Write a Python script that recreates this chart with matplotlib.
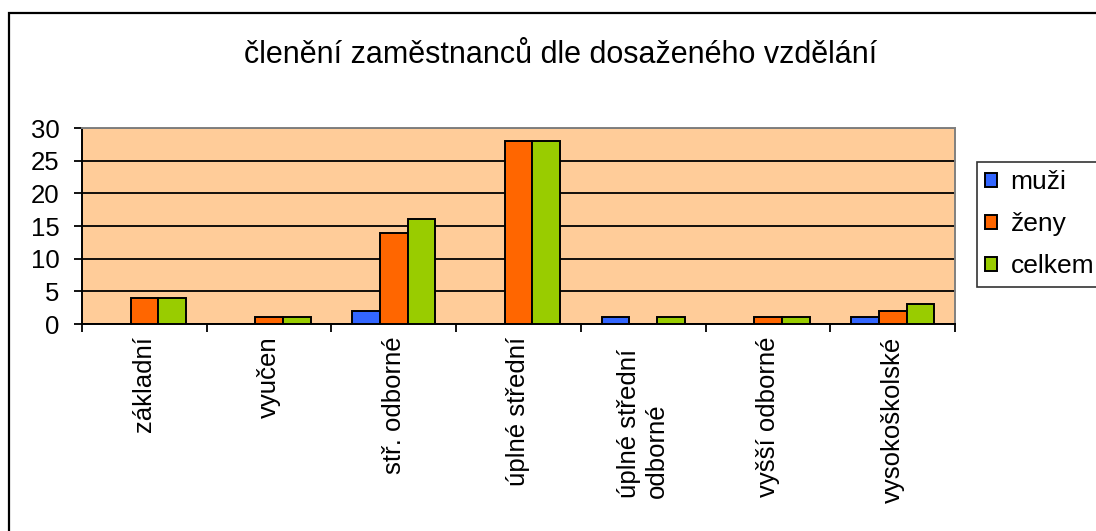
"""Bar chart: členění zaměstnanců dle dosaženého vzdělání (Excel-style)."""
import numpy as np
import matplotlib
matplotlib.use('Agg')
import matplotlib.pyplot as plt
from matplotlib.patches import Rectangle
from matplotlib.transforms import ScaledTranslation

plt.rcParams['font.family'] = ['Liberation Sans', 'DejaVu Sans']

TITLE = 'členění zaměstnanců dle dosaženého vzdělání'
CATEGORIES = ['základní', 'vyučen', 'stř. odborné', 'úplné střední',
              'úplné střední\nodborné', 'vyšší odborné', 'vysokoškolské']
SERIES = ['muži', 'ženy', 'celkem']
MUZI = [0, 0, 2, 0, 1, 0, 1]
ZENY = [4, 1, 14, 28, 0, 1, 2]
CELKEM = [4, 1, 16, 28, 1, 1, 3]
Y_TICKS = [0, 5, 10, 15, 20, 25, 30]

COLORS = ['#3366FF', '#FF6600', '#99CC00']
BG = '#FFCC99'

W, H = 1096, 531
fig = plt.figure(figsize=(W / 100, H / 100), dpi=100)
fig.patch.set_facecolor('white')

# outer chart frame (right/bottom edges fall outside the image)
fig.add_artist(Rectangle((9 / W, -0.2), 1.2, (H - 13) / H + 0.2,
                         transform=fig.transFigure, fill=False,
                         edgecolor='black', linewidth=1.6, zorder=0))

ax = fig.add_axes([82 / W, (H - 324) / H, (955 - 82) / W, (324 - 128) / H])
ax.set_facecolor(BG)

x = np.arange(len(CATEGORIES))
bw = 1 / 4.5
for i, (vals, col, name) in enumerate(zip([MUZI, ZENY, CELKEM], COLORS, SERIES)):
    ax.bar(x + (i - 1) * bw, vals, width=bw, color=col, edgecolor='black',
           linewidth=1.4, label=name, zorder=3)

ax.set_xlim(-0.5, len(CATEGORIES) - 0.5)
ax.set_ylim(0, 30)
ax.set_yticks(Y_TICKS)
ax.set_yticklabels([str(v) for v in Y_TICKS], fontsize=18.5)
ax.yaxis.grid(True, color='black', linewidth=1.3, zorder=1)
ax.set_axisbelow(True)

# category ticks sit on the boundaries, labels in the middle
ax.set_xticks(np.arange(len(CATEGORIES) + 1) - 0.5)
ax.set_xticklabels([])
ax.set_xticks(x, minor=True)
ax.set_xticklabels(CATEGORIES, minor=True, rotation=90, fontsize=18.5,
                   va='top', ha='center', multialignment='left')
ax.tick_params(axis='x', which='minor', length=0, pad=9)
ax.tick_params(axis='x', which='major', length=6, width=1.3, direction='out')
ax.tick_params(axis='y', length=6, width=1.3, direction='out', pad=10)

# the wrapped label sits a bit lower in the original
lbl = ax.get_xticklabels(minor=True)[4]
lbl.set_transform(lbl.get_transform() + ScaledTranslation(0, -0.12, fig.dpi_scale_trans))

for s in ['left', 'bottom']:
    ax.spines[s].set_color('black')
    ax.spines[s].set_linewidth(1.4)
for s in ['top', 'right']:
    ax.spines[s].set_color('#808080')
    ax.spines[s].set_linewidth(1.4)

fig.text(561 / W, (H - 55) / H, TITLE, fontsize=22, ha='center', va='center')

leg = ax.legend(loc='upper left', bbox_to_anchor=(977 / W, (H - 162) / H),
                bbox_transform=fig.transFigure, fontsize=19, frameon=True,
                fancybox=False, handlelength=0.45, handleheight=0.45,
                handletextpad=0.5, labelspacing=0.68, borderpad=0.32,
                borderaxespad=0)
leg.get_frame().set_edgecolor('black')
leg.get_frame().set_linewidth(1.2)

fig.savefig('out.png', dpi=100)
